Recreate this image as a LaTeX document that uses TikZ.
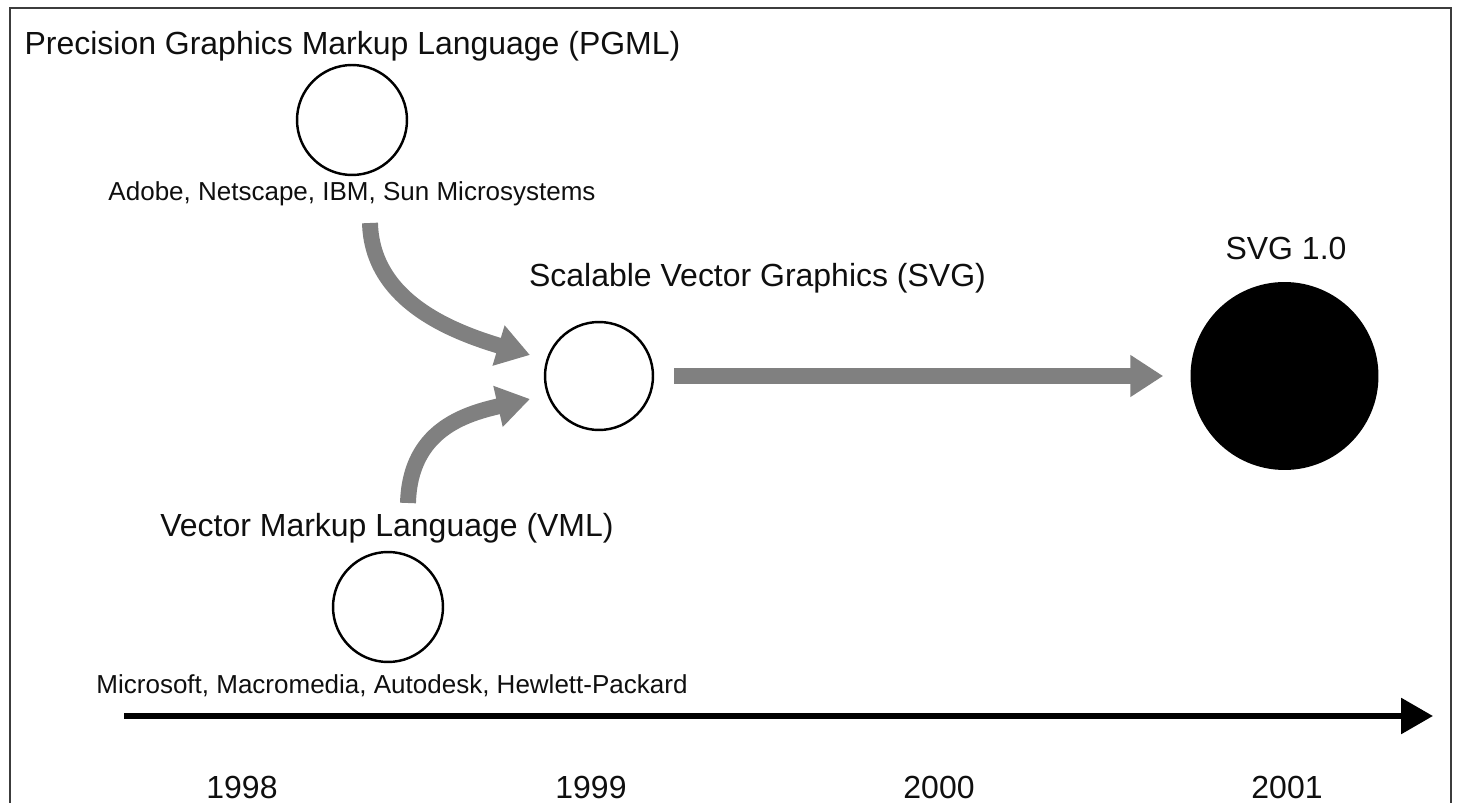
\documentclass[tikz,border=0pt]{standalone}
\usepackage{fontspec}
\setmainfont{Liberation Sans}
\usetikzlibrary{arrows.meta}
\definecolor{arrowgray}{RGB}{128,128,128}
\definecolor{framegray}{RGB}{60,60,60}
\definecolor{textdark}{RGB}{15,15,15}
\begin{document}
\begin{tikzpicture}[x=0.02cm,y=-0.02cm,
  title/.style={font=\fontsize{18.2}{22}\selectfont, text=textdark, anchor=base, inner sep=0pt},
  small/.style={font=\fontsize{14.8}{18}\selectfont, text=textdark, anchor=base, inner sep=0pt},
  ring/.style={circle, draw=black, line width=1.4pt, inner sep=0pt, fill=white},
  grayarrow/.style={draw=arrowgray, line width=9.07pt, -{Triangle[length=18.7pt,width=22.7pt]}, arrowgray},
  timeline/.style={draw=black, line width=3.4pt, -{Triangle[length=18.1pt,width=19.8pt]}}
]
\useasboundingbox (0,0) rectangle (1457,803);
% frame
\draw[framegray, line width=1.13pt] (10,815) -- (10,8) -- (1451,8) -- (1451,815);

% PGML
\node[title] (pgmlT) at (352.5,55) {Precision Graphics Markup Language (PGML)};
\node[ring, minimum size=2.2cm] (pgml) at (352,120) {};
\node[small] (pgmlC) at (352,201) {Adobe, Netscape, IBM, Sun Microsystems};

% SVG
\node[title] (svgT) at (757.5,287) {Scalable Vector Graphics (SVG)};
\node[ring, minimum size=2.16cm] (svg) at (599,376) {};

% SVG 1.0
\node[title] (svg1T) at (1286,260) {SVG 1.0};
\node[circle, fill=black, inner sep=0pt, minimum size=3.76cm] (svg1) at (1284.5,376) {};

% VML
\node[title] (vmlT) at (387,537) {Vector Markup Language (VML)};
\node[ring, minimum size=2.2cm] (vml) at (388,607) {};
\node[small] (vmlC) at (392,693) {Microsoft, Macromedia, Autodesk, Hewlett-Packard};

% curved arrows into SVG
\coordinate (a1s) at (370,223);
\coordinate (a1e) at (530,355);
\coordinate (a2s) at (408,503);
\coordinate (a2e) at (530,399);
\draw[grayarrow] (a1s) .. controls (372,300) and (450,331) .. (a1e);
\draw[grayarrow] (a2s) .. controls (410,430) and (465,414) .. (a2e);

% SVG to SVG 1.0
\draw[grayarrow] ([xshift=0.4cm]svg.east) -- ([xshift=-0.54cm]svg1.west);

% timeline
\coordinate (tl0) at (124,716);
\coordinate (tl1) at (1433,716);
\draw[timeline] (tl0) -- (tl1);

% years
\node[title] (y1998) at (242,798) {1998};
\node[title] (y1999) at (591,798) {1999};
\node[title] (y2000) at (939,798) {2000};
\node[title] (y2001) at (1287,798) {2001};
\end{tikzpicture}
\end{document}
